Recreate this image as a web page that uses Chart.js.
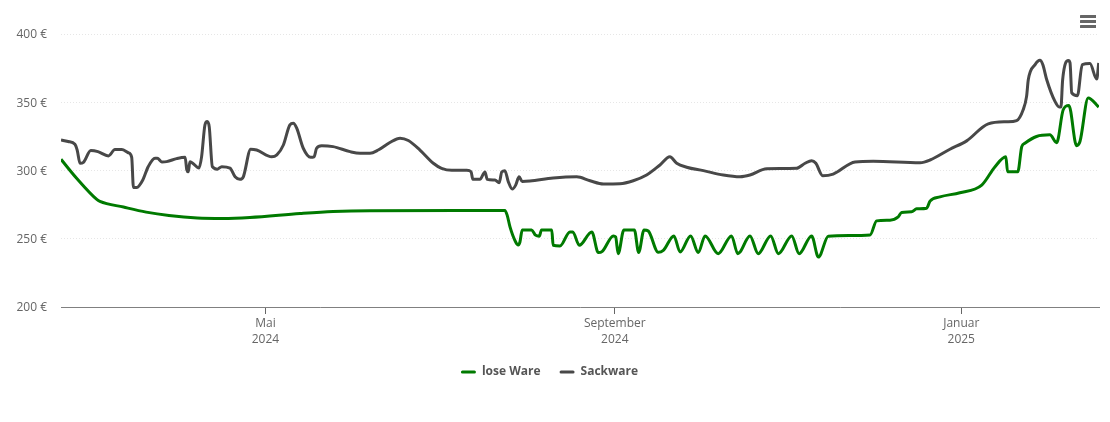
<!DOCTYPE html>
<html><head><meta charset="utf-8">
<script src="https://cdn.jsdelivr.net/npm/chart.js@4/dist/chart.umd.min.js"></script>
<style>
html,body{margin:0;padding:0;background:#fff}
#wrap{position:relative;width:1110px;height:422px;overflow:hidden}
#menu{position:absolute;left:1079.5px;top:15px;width:16.5px;height:13px}
</style></head><body>
<div id="wrap"><canvas id="c" width="1110" height="422"></canvas>
<svg id="menu" viewBox="0 0 16.5 13"><g fill="#666"><rect x="0" y="0" width="16.5" height="3" rx="0.5"/><rect x="0" y="5" width="16.5" height="3" rx="0.5"/><rect x="0" y="10" width="16.5" height="3" rx="0.5"/></g></svg>
</div>
<script>
// x values are days since 2024-02-19
const tickDays=[72,195,317];
const tickLabels=[["Mai","2024"],["September","2024"],["Januar","2025"]];
const yTicks=[200,250,300,350,400];
const seriesNames=["lose Ware","Sackware"];
const loseDays=[0,5.5,12.6,13.7,22,30,38,48,57,66.5,84.2,95.8,108.8,156.3,157.1,158.1,160.1,161,161.6,162.4,165.7,167.1,168.4,169.2,172.8,173.3,175.7,179.2,180.2,182.5,186.9,189.2,190.6,194.5,195.3,196.2,198.2,201.9,203.4,205.3,206.8,210.3,212.1,215.8,218,221.7,224.4,226.8,231.4,236.1,238.3,239.1,242.6,245.5,249.9,252.6,257.3,259.9,264.3,266.7,270.2,284.9,287.2,291.9,294.8,296,299.5,301.3,304.8,306,309.5,316.5,324.2,328.9,332.7,333.3,336.9,338.3,339.4,343.5,348.2,350.6,352.9,354.9,357.6,358.8,361.7,365.4];
const loseValues=[308.2,294.3,278.8,277.4,273.2,269.5,267,265.2,264.9,265.6,268.5,270,270.6,270.7,267.3,258.7,247.6,245.4,247.6,256.5,256.5,252.6,251.8,256.5,256.5,245.2,244.7,255,255,245.2,255,239.9,240.8,252.1,251.3,239.1,256.5,256.5,239.9,256.5,255.7,240.1,241.5,252.1,240.3,252.1,239.9,252.1,239.1,252.1,239.1,240.3,252.1,239.1,252.1,239.1,252.1,239.1,252.1,236.6,251.8,252.8,263.1,263.6,266,269.3,269.7,271.9,272.4,277.6,280.7,283.7,289.3,302.8,310.1,299.1,299.1,317.5,320,324.9,326.1,320.4,344.5,347.6,318.2,321.2,353.1,346.5];
const sackDays=[0,2.5,4.9,5.7,6.7,7.9,10.5,13,16.7,19,21.4,23.7,24.9,25.5,26.7,28.8,30.7,33.1,33.9,35.5,37.2,40.7,43.7,44.3,44.8,45.4,48.6,49.5,50.7,51.5,52.2,53.3,55,56.6,59.5,61.3,63,64.2,66.8,68.9,74.2,76,78.3,80.6,81.8,83,85.3,87.9,89.1,90,91.8,95.8,101.8,105.3,108.8,111.7,115.8,119.4,122.3,126.4,131.1,134,137.6,142.9,144.4,145,147.5,149.3,150.1,152.8,154.3,155.2,156.3,157.5,158.9,160.1,161.3,162.4,165.1,173.3,181.6,186.3,191,196.8,201.5,206.2,210.9,214.4,216.8,220.3,226.2,233.2,239.1,242.6,248.5,259,262,264.3,265.8,268.2,271.9,279.6,286,302.5,306,313,318.9,326.5,333,336.5,338.8,340,340.6,343,344.7,345.7,347.1,350,351.5,352.1,352.7,354.7,355.3,355.9,357.9,359.6,362.3,364.7,365.4];
const sackValues=[322.4,321.2,319.3,315,305.3,306,314.6,313.8,310.7,315.3,315.3,313,309.7,287.6,287.6,293,302.8,309,309,306.3,306.5,308.7,309.7,300.4,299,306.5,301.8,310,333.5,335.9,332,302.8,301,302.8,301.8,295.4,293.5,295.4,315.6,315,310,311.4,318.7,333.5,334.7,331,316.3,309.7,310,316.3,318.2,317.5,313.8,312.6,312.6,315,320.5,323.7,322,315,305.3,301.6,300.1,300.1,299.1,293.5,293.5,298.9,293.5,293,291,299,299.9,291.8,286.4,289.3,295.4,292,292.3,294.5,295.4,292.5,290.1,290.3,292.5,296.7,304,310,305.3,302.4,299.9,296.7,295.4,296.7,301.3,301.6,305.3,307.2,305.3,296.2,297.4,306.3,306.8,305.7,307.7,315.6,321.7,334.2,335.7,336.6,344.5,354.3,366.5,377.6,380.7,377.6,366.5,350.6,346.5,346.5,366.5,380.5,378.8,356.8,354.8,377.6,378.3,367,378.8];

const toXY=(xs,ys)=>xs.map((x,i)=>({x,y:ys[i]}));
const FONT='"Open Sans"';
const GREEN='#007a00', DARK='#484848';
Chart.defaults.font.family=FONT;
new Chart(document.getElementById('c'),{
  type:'line',
  data:{datasets:[
    {label:seriesNames[0],data:toXY(loseDays,loseValues),borderColor:GREEN,backgroundColor:GREEN,borderWidth:3,pointRadius:0,cubicInterpolationMode:'monotone'},
    {label:seriesNames[1],data:toXY(sackDays,sackValues),borderColor:DARK,backgroundColor:DARK,borderWidth:3,pointRadius:0,cubicInterpolationMode:'monotone'}
  ]},
  options:{
    responsive:false,animation:false,devicePixelRatio:1,
    layout:{padding:{top:34,right:11,left:0,bottom:34}},
    scales:{
      x:{type:'linear',min:0,max:365.5,
        afterBuildTicks:s=>{s.ticks=tickDays.map(v=>({value:v}));},
        afterFit:s=>{s.height=40;},
        grid:{display:true,drawOnChartArea:false,drawTicks:true,tickLength:7,tickColor:'#666',tickWidth:1},
        border:{display:true,color:'#808080',width:1},
        ticks:{autoSkip:false,maxRotation:0,padding:2,color:'#666',font:{size:12,lineHeight:1.33},
          callback:(v,i)=>tickLabels[i]}
      },
      y:{type:'linear',min:200,max:400,
        afterBuildTicks:s=>{s.ticks=yTicks.map(v=>({value:v}));},
        afterFit:s=>{s.width=61;},
        grid:{color:'#e6e6e6',lineWidth:1,drawTicks:false},
        border:{display:false,dash:[1,2]},
        ticks:{padding:14,color:'#666',labelOffset:1,font:{size:12},callback:v=>v+' €'}
      }
    },
    plugins:{
      tooltip:{enabled:false},
      legend:{position:'bottom',align:'center',
        labels:{boxWidth:15,boxHeight:3,padding:19,color:'#555',font:{size:12,weight:'bold'},useBorderRadius:true,borderRadius:1.5,
          generateLabels:ch=>ch.data.datasets.map((d,i)=>({text:d.label,fillStyle:d.borderColor,strokeStyle:d.borderColor,fontColor:'#555',lineWidth:0,datasetIndex:i,borderRadius:1.5}))}}
    }
  }
});
</script>
</body></html>
